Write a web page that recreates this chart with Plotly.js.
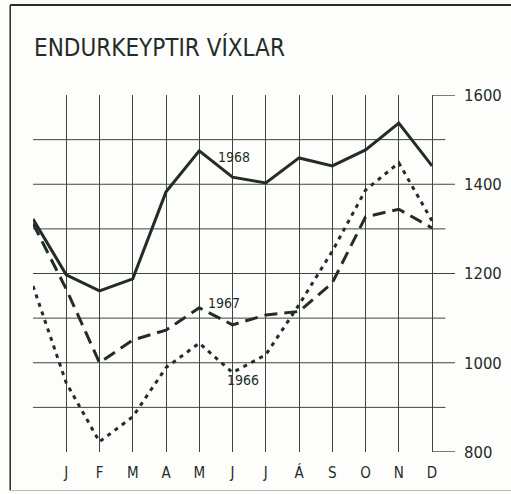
<!DOCTYPE html>
<html>
<head>
<meta charset="utf-8">
<script src="https://cdn.plot.ly/plotly-3.0.1.min.js"></script>
<style>
  html, body { margin: 0; padding: 0; background: #fdfdfb; }
  #chart { width: 511px; height: 494px; }
</style>
</head>
<body>
<div id="chart"></div>
<script>
// ---- data ----
const months = ['', 'J', 'F', 'M', 'A', 'M', 'J', 'J', 'Á', 'S', 'O', 'N', 'D'];
const xPos = [0, 1, 2, 3, 4, 5, 6, 7, 8, 9, 10, 11, 12];
const v1968 = [1322, 1197, 1161, 1188, 1383, 1475, 1416, 1403, 1459, 1441, 1477, 1537, 1441];
const v1967 = [1312, 1165, 1000, 1051, 1073, 1123, 1085, 1107, 1115, 1179, 1327, 1344, 1302];
const v1966 = [1172, 955, 823, 879, 989, 1044, 978, 1018, 1130, 1250, 1387, 1448, 1318];
const yTicks = [800, 1000, 1200, 1400, 1600];
const yLabels = ['800', '1000', '1200', '1400', '1600'];
const gridY = [900, 1000, 1100, 1200, 1300, 1400, 1500];
const seriesNames = ['1968', '1967', '1966'];

const ink = '#232d28';
const gridInk = '#3e4641';
const font = '"Liberation Sans Narrow", "DejaVu Sans Condensed", "Liberation Sans", sans-serif';

const traces = [
  { x: xPos, y: v1968, name: seriesNames[0], mode: 'lines', line: { color: ink, width: 3 } },
  { x: xPos, y: v1967, name: seriesNames[1], mode: 'lines', line: { color: ink, width: 3, dash: '13px,7px' } },
  { x: xPos, y: v1966, name: seriesNames[2], mode: 'lines', line: { color: ink, width: 3, dash: '4px,5px' } }
];

const xMax = 12.69;
const shapes = [];
// horizontal grid lines (some longer, reaching the label ticks)
gridY.forEach(v => {
  const long = (v === 1000 || v === 1200 || v === 1400);
  shapes.push({ type: 'line', xref: 'x', yref: 'y', x0: 0, x1: long ? xMax : 12.4, y0: v, y1: v,
    line: { color: gridInk, width: 1 }, layer: 'below' });
});
// top and bottom short ticks at 1600 / 800
[800, 1600].forEach(v => {
  shapes.push({ type: 'line', xref: 'x', yref: 'y', x0: 12, x1: xMax, y0: v, y1: v,
    line: { color: gridInk, width: 1.4 }, layer: 'below' });
});
// outer frame (left, top, bottom)
shapes.push({ type: 'line', xref: 'paper', yref: 'paper', x0: -0.054, x1: -0.054, y0: -0.108, y1: 1.252, line: { color: ink, width: 1.5 } });
shapes.push({ type: 'line', xref: 'paper', yref: 'paper', x0: -0.054, x1: 1.14, y0: 1.252, y1: 1.252, line: { color: ink, width: 2 } });
shapes.push({ type: 'line', xref: 'paper', yref: 'paper', x0: -0.054, x1: 1.14, y0: -0.108, y1: -0.108, line: { color: '#b8bcb9', width: 1 } });

const annotations = [
  { x: 6.05, y: 1461, text: seriesNames[0] },
  { x: 5.75, y: 1134, text: seriesNames[1] },
  { x: 6.3, y: 962, text: seriesNames[2] }
].map(a => Object.assign(a, { xref: 'x', yref: 'y', showarrow: false,
  font: { family: font, size: 14, color: ink }, bgcolor: 'rgba(0,0,0,0)' }));

const layout = {
  width: 511, height: 494,
  margin: { l: 33, r: 56, t: 95, b: 42, pad: 0 },
  paper_bgcolor: '#fdfdfb', plot_bgcolor: 'rgba(0,0,0,0)',
  showlegend: false,
  title: { text: 'ENDURKEYPTIR VÍXLAR', x: 0, xref: 'paper', xanchor: 'left', y: 1, yref: 'container', yanchor: 'top',
    pad: { t: 39, l: 1 }, font: { family: font, size: 24, color: ink } },
  xaxis: {
    range: [0, xMax], tickvals: xPos, ticktext: months, showgrid: true, gridcolor: gridInk, gridwidth: 1,
    zeroline: false, showline: false, ticks: '', ticklabelstandoff: 10,
    tickfont: { family: font, size: 15, color: ink }, fixedrange: true
  },
  yaxis: {
    range: [800, 1600], side: 'right', tickvals: yTicks, ticktext: yLabels, showgrid: false,
    zeroline: false, showline: false, ticks: '', ticklabelstandoff: 8,
    tickfont: { family: font, size: 16.5, color: ink }, fixedrange: true
  },
  shapes: shapes,
  annotations: annotations
};

Plotly.newPlot('chart', traces, layout, { staticPlot: true, displayModeBar: false });
</script>
</body>
</html>
